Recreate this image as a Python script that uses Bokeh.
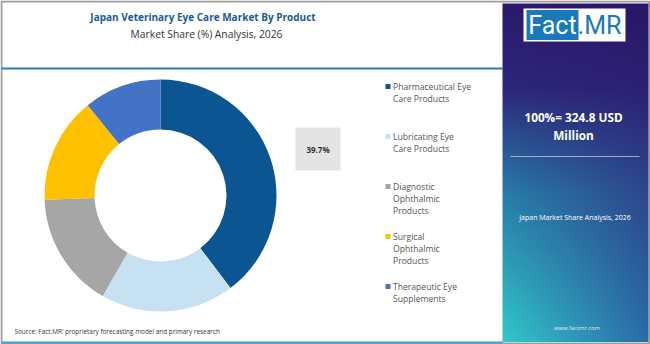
import numpy as np
from math import pi
from bokeh.plotting import figure
from bokeh.models import Range1d
from bokeh.core.properties import value
from bokeh.embed import file_html
from bokeh.resources import INLINE

# ---------------- data ----------------
title = "Japan Veterinary Eye Care Market By Product"
subtitle = "Market Share (%) Analysis, 2026"
categories = [
    "Pharmaceutical Eye\nCare Products",
    "Lubricating Eye\nCare Products",
    "Diagnostic\nOphthalmic\nProducts",
    "Surgical\nOphthalmic\nProducts",
    "Therapeutic Eye\nSupplements",
]
shares = [39.7, 18.6, 16.1, 14.8, 10.8]
colors = ["#0b5592", "#c6e1f1", "#a6a6a6", "#ffc000", "#4472c4"]
total_text = ["100%= 324.8 USD", "Million"]
panel_caption = "Japan Market Share Analysis, 2026"
website = "www.factmr.com"
source = "Source: Fact.MR' proprietary forecasting model and primary research"

W, H = 650, 344
FONT = "Open Sans"


def Y(v):
    return H - v


p = figure(width=W, height=H, x_range=Range1d(0, W), y_range=Range1d(0, H),
           output_backend="svg", toolbar_location=None, min_border=0,
           x_axis_location=None, y_axis_location=None)
p.grid.visible = False
p.outline_line_color = None
p.background_fill_color = "white"
p.border_fill_color = "white"

# outer frame
p.rect(x=[W / 2], y=[H / 2], width=[W - 2], height=[H - 2],
       fill_color=None, line_color="#9c9c9c", line_width=2)

# top rule and bottom rule
p.segment(x0=[1], y0=[Y(68)], x1=[502], y1=[Y(68)], line_color="#2a7ab8", line_width=2)
p.segment(x0=[1], y0=[Y(342)], x1=[502], y1=[Y(342)], line_color="#3aa3da", line_width=2)

# gradient panel on right (bilinear: vertical stops, blended left->right)
px0, px1 = 502, 648
py_top, py_bot = 3, 341.5
gw, gh = 146, 338
rows = np.arange(gh)[:, None]
cols = np.arange(gw)[None, :]
v = 1 - rows / (gh - 1)          # fraction downward (row 0 is bottom)
u = cols / (gw - 1)
vs = [0.0, 0.25, 0.55, 1.0]
left_rgb = [(45, 25, 110), (45, 40, 122), (40, 122, 168), (50, 200, 202)]
right_rgb = [(42, 22, 105), (44, 32, 114), (45, 70, 140), (42, 108, 168)]
img = np.empty((gh, gw), dtype=np.uint32)
view = img.view(dtype=np.uint8).reshape((gh, gw, 4))
for ch in range(3):
    lc = np.interp(v, vs, [c[ch] for c in left_rgb])
    rc = np.interp(v, vs, [c[ch] for c in right_rgb])
    view[:, :, ch] = np.clip(lc * (1 - u) + rc * u, 0, 255).astype(np.uint8)
view[:, :, 3] = 255
p.image_rgba(image=[img], x=px0, y=Y(py_bot), dw=px1 - px0, dh=py_bot - py_top)

# logo
p.quad(left=[523], right=[625], top=[Y(8)], bottom=[Y(41)], fill_color="white", line_color=None)
p.quad(left=[526], right=[578], top=[Y(9.5)], bottom=[Y(39.5)], fill_color="#1a79ba", line_color=None)
p.text(x=[552], y=[Y(25)], text=["Fact"], text_font=value("Roboto"), text_font_size="25px",
       text_color="white", text_align="center", text_baseline="middle")
p.text(x=[599], y=[Y(25)], text=[".MR"], text_font=value("Roboto"), text_font_size="25px",
       text_color="#1a79ba", text_align="center", text_baseline="middle")

# panel texts
p.text(x=[573, 573], y=[Y(116.5), Y(134.5)], text=total_text, text_font=value(FONT),
       text_font_size="11.8px", text_font_style="bold", text_color="white",
       text_align="center", text_baseline="middle")
p.segment(x0=[510], y0=[Y(156)], x1=[639], y1=[Y(156)], line_color="#a4abd0", line_width=1.2)
p.text(x=[574.5], y=[Y(216.5)], text=[panel_caption], text_font=value(FONT),
       text_font_size="7px", text_color="white", text_align="center", text_baseline="middle")
p.text(x=[576.5], y=[Y(327.5)], text=[website], text_font=value(FONT),
       text_font_size="5.8px", text_color="#e8ecf4", text_align="center", text_baseline="middle")

# titles
p.text(x=[202.5], y=[Y(16)], text=[title], text_font=value(FONT), text_font_size="10px",
       text_font_style="bold", text_color="#1d5a92", text_align="center", text_baseline="middle")
p.text(x=[206], y=[Y(33.5)], text=[subtitle], text_font=value(FONT), text_font_size="10.3px",
       text_color="#333333", text_align="center", text_baseline="middle")

# donut
cx, cy = 160, Y(195)
fr = np.array(shares) / sum(shares)
cum = np.concatenate([[0], np.cumsum(fr)])
starts = pi / 2 - 2 * pi * cum[:-1]
ends = pi / 2 - 2 * pi * cum[1:]
p.annular_wedge(x=[cx] * len(shares), y=[cy] * len(shares), inner_radius=66, outer_radius=116,
                start_angle=list(starts), end_angle=list(ends), direction="clock",
                fill_color=colors, line_color=None)

# value label box for first slice
p.quad(left=[295], right=[340], top=[Y(127)], bottom=[Y(170)], fill_color="#e4e4e4", line_color=None)
p.text(x=[317.5], y=[Y(148.5)], text=[f"{shares[0]}%"], text_font=value(FONT),
       text_font_size="8px", text_font_style="bold", text_color="#333333",
       text_align="center", text_baseline="middle")

# legend
lx_sq, lx_txt = 387.5, 392.5
ly0, lstep, lline = 86, 50, 12.4
for i, (cat, col) in enumerate(zip(categories, colors)):
    yy = ly0 + i * lstep
    p.rect(x=[lx_sq], y=[Y(yy)], width=[5], height=[5], fill_color=col, line_color=None)
    lines = cat.split("\n")
    p.text(x=[lx_txt] * len(lines), y=[Y(yy + k * lline) for k in range(len(lines))], text=lines,
           text_font=value(FONT), text_font_size="8.6px", text_color="#555555",
           text_align="left", text_baseline="middle")

# source
p.text(x=[14], y=[Y(330.5)], text=[source], text_font=value(FONT), text_font_size="6.4px",
       text_color="#333333", text_align="left", text_baseline="middle")

open("out.html", "w").write(file_html(p, INLINE))
